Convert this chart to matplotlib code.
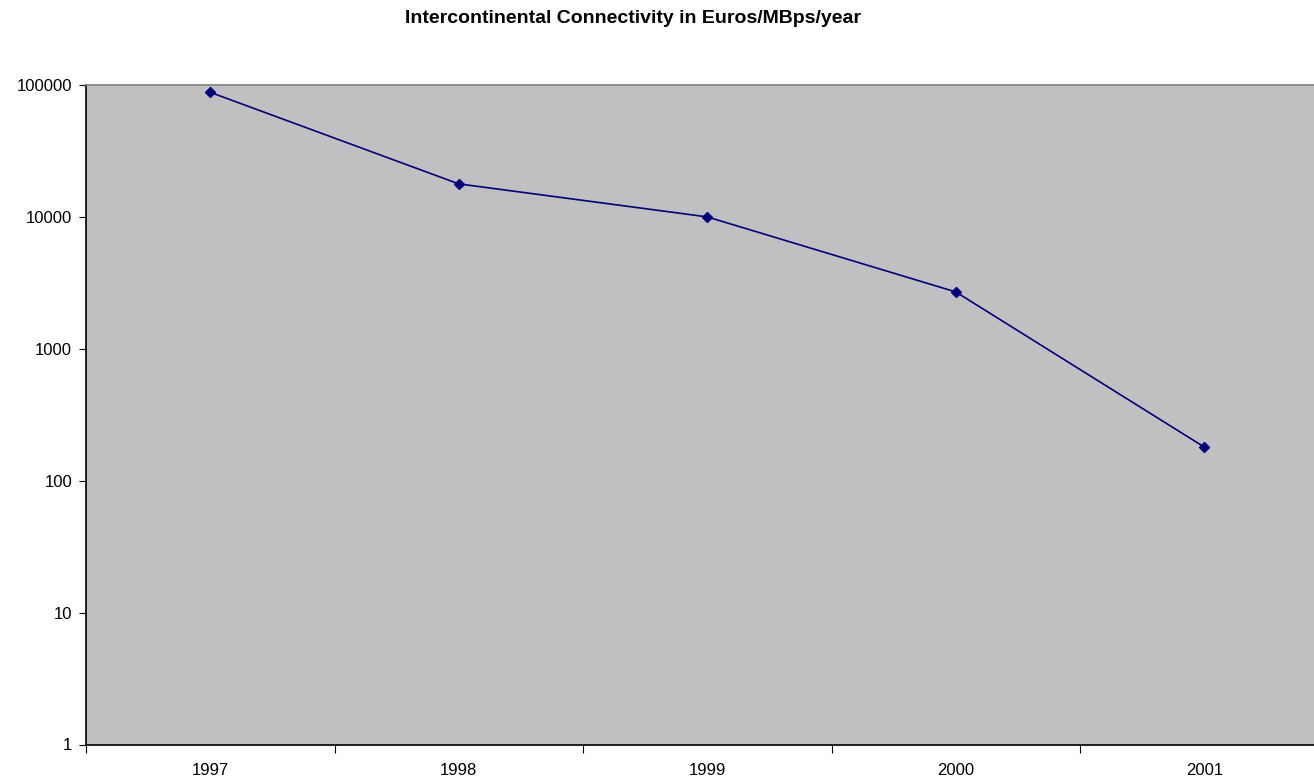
import numpy as np
import matplotlib
matplotlib.use("Agg")
import matplotlib.pyplot as plt
from matplotlib.ticker import FixedLocator, NullLocator, FixedFormatter

plt.rcParams['font.family'] = ['Liberation Sans', 'DejaVu Sans']

years = ["1997", "1998", "1999", "2000", "2001"]
prices = [88000, 17800, 10000, 2700, 180]

fig = plt.figure(figsize=(13.14, 7.8), dpi=100)
ax = fig.add_axes([86 / 1314, 35.5 / 780, 1242.5 / 1314, 659.5 / 780])
ax.set_facecolor("#c0c0c0")

x = np.arange(len(years))
ax.plot(x, prices, color="#000080", lw=1.2, marker="D", ms=5.5,
        mec="#000080", mfc="#000080")

ax.set_yscale("log")
ax.set_ylim(1, 100000)
ax.set_xlim(-0.5, len(years) - 0.5)

# y ticks on decades
ax.yaxis.set_major_locator(FixedLocator([1, 10, 100, 1000, 10000, 100000]))
ax.yaxis.set_major_formatter(FixedFormatter(["1", "10", "100", "1000", "10000", "100000"]))
ax.yaxis.set_minor_locator(NullLocator())

# x ticks between categories, labels centred
ax.set_xticks(np.arange(len(years) + 1) - 0.5)
ax.set_xticklabels([])
ax.set_xticks(x, minor=True)
ax.set_xticklabels(years, minor=True)
ax.tick_params(axis="x", which="minor", length=0, pad=13, labelsize=12)
ax.tick_params(axis="x", which="major", length=6, direction="out", color="black")
ax.tick_params(axis="y", length=5, direction="out", labelsize=12, pad=5)

ax.spines["left"].set_color("black")
ax.spines["bottom"].set_color("black")
ax.spines["top"].set_color("#808080")
ax.spines["right"].set_visible(False)
for s in ax.spines.values():
    s.set_linewidth(1.2)

fig.text(633 / 1314, 1 - 18.5 / 780, "Intercontinental Connectivity in Euros/MBps/year",
         ha="center", va="center", fontsize=14, fontweight="bold")

fig.savefig("out.png", dpi=100)
